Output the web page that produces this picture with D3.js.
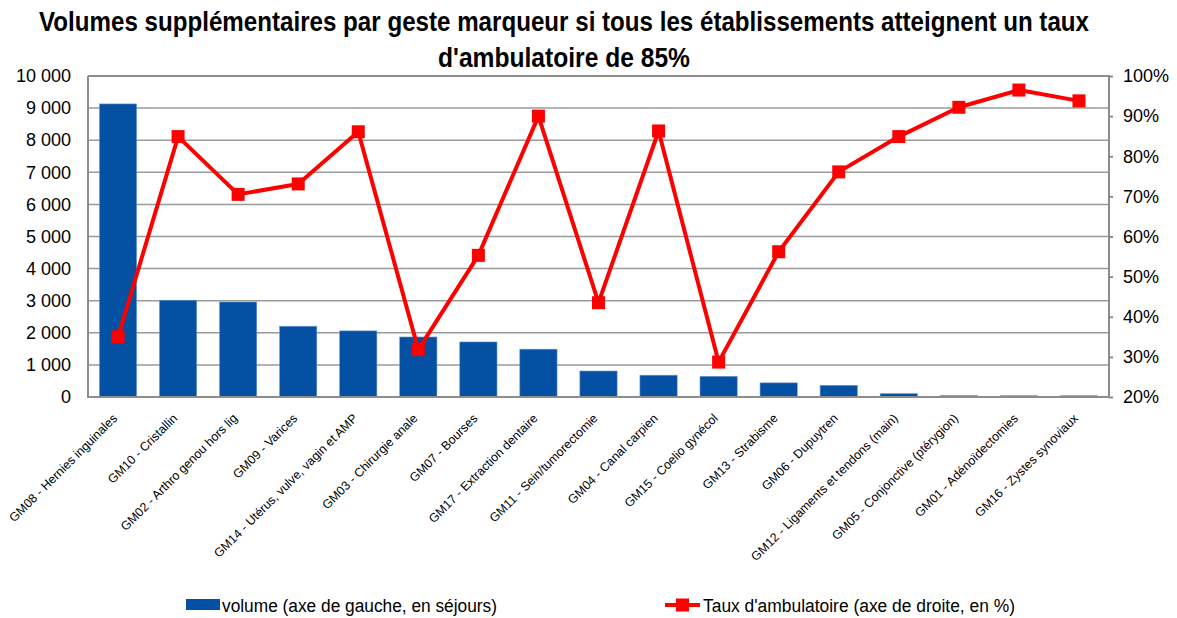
<!DOCTYPE html>
<html>
<head>
<meta charset="utf-8">
<script src="https://cdn.jsdelivr.net/npm/d3@7"></script>
<style>
  body { margin: 0; background: #fff; }
  svg { font-family: "Liberation Sans", Arial, sans-serif; display: block; }
</style>
</head>
<body>
<svg id="chart" width="1177" height="618"></svg>
<script>
var categories = ["GM08 - Hernies inguinales", "GM10 - Cristallin", "GM02 - Arthro genou hors lig",
  "GM09 - Varices", "GM14 - Utérus, vulve, vagin et AMP", "GM03 - Chirurgie anale", "GM07 - Bourses",
  "GM17 - Extraction dentaire", "GM11 - Sein/tumorectomie", "GM04 - Canal carpien", "GM15 - Coelio gynécol",
  "GM13 - Strabisme", "GM06 - Dupuytren", "GM12 - Ligaments et tendons (main)", "GM05 - Conjonctive (ptérygion)",
  "GM01 - Adénoïdectomies", "GM16 - Zystes synoviaux"]
var volumes = [9130, 3015, 2960, 2205, 2060, 1870, 1715, 1490, 810, 680, 645, 440, 365, 105, 45, 40, 40]
var tauxAmbu = [35.0, 84.9, 70.5, 73.1, 86.1, 31.8, 55.3, 90.0, 43.5, 86.3, 28.7, 56.2, 76.1, 84.9, 92.2, 96.5, 93.8]
var leftTicks = [0, 1000, 2000, 3000, 4000, 5000, 6000, 7000, 8000, 9000, 10000]
var rightTicks = [20, 30, 40, 50, 60, 70, 80, 90, 100]
var titleLines = ["Volumes supplémentaires par geste marqueur si tous les établissements atteignent un taux",
  "d'ambulatoire de 85%"]
var legendLabels = ["volume (axe de gauche, en séjours)", "Taux d'ambulatoire (axe de droite, en %)"]

var svg = d3.select("#chart")
var margin = { top: 76, right: 68, bottom: 221, left: 88 }
var width = 1177 - margin.left - margin.right
var height = 618 - margin.top - margin.bottom

var blue = "#0450a2"
var red = "#ff0000"
var gray = "#8c8c8c"

var x = d3.scaleBand().domain(categories).range([0, width]).paddingInner(0.38).paddingOuter(0.19)
var yLeft = d3.scaleLinear().domain([0, 10000]).range([height, 0])
var yRight = d3.scaleLinear().domain([20, 100]).range([height, 0])

// titre (police étroite simulée par un scaleX)
var titleWidths = [1050, 252]
svg.append("g")
    .selectAll("text")
    .data(titleLines)
    .enter().append("text")
    .attr("text-anchor", "middle")
    .attr("font-weight", "bold")
    .attr("font-size", 27)
    .text(d => d)
    .attr("transform", function (d, i) {
        var sx = titleWidths[i] / this.getComputedTextLength()
        return "translate(564," + (31 + i * 36) + ") scale(" + sx + ",1)"
    })

var g = svg.append("g").attr("transform", "translate(" + margin.left + "," + margin.top + ")")

// grille
g.append("g")
    .selectAll("line")
    .data(leftTicks)
    .enter().append("line")
    .attr("x1", 0)
    .attr("x2", width)
    .attr("y1", d => yLeft(d))
    .attr("y2", d => yLeft(d))
    .attr("stroke", "#9a9a9a")
    .attr("stroke-width", 1.5)

// barres
g.append("g")
    .selectAll("rect")
    .data(volumes)
    .enter().append("rect")
    .attr("x", (d, i) => x(categories[i]))
    .attr("y", d => yLeft(d))
    .attr("width", x.bandwidth())
    .attr("height", d => height - yLeft(d))
    .attr("fill", blue)
    .attr("stroke", "#6f9bd1")
    .attr("stroke-width", 0.6)

// axes
var leftAxis = g.append("g")
    .call(d3.axisLeft(yLeft).tickValues(leftTicks).tickSize(0).tickPadding(17)
        .tickFormat(d => d3.format(",")(d).replace(",", " ")))
leftAxis.select(".domain").remove()
leftAxis.selectAll("text").attr("font-size", 18).attr("fill", "#000")

var rightAxis = g.append("g")
    .attr("transform", "translate(" + width + ",0)")
    .call(d3.axisRight(yRight).tickValues(rightTicks).tickSize(4).tickPadding(10)
        .tickFormat(d => d + "%"))
rightAxis.select(".domain").remove()
rightAxis.selectAll("line").attr("stroke", gray).attr("stroke-width", 2)
rightAxis.selectAll("text").attr("font-size", 18).attr("fill", "#000")

g.append("path")
    .attr("d", "M0,0V" + height + "H" + width + "V0H0")
    .attr("fill", "none")
    .attr("stroke", gray)
    .attr("stroke-width", 2)

// courbe du taux
var line = d3.line()
    .x((d, i) => x(categories[i]) + x.bandwidth() / 2)
    .y(d => yRight(d))

g.append("path")
    .datum(tauxAmbu)
    .attr("d", line)
    .attr("fill", "none")
    .attr("stroke", red)
    .attr("stroke-width", 4)
    .attr("stroke-linejoin", "round")

g.append("g")
    .selectAll("rect")
    .data(tauxAmbu)
    .enter().append("rect")
    .attr("x", (d, i) => x(categories[i]) + x.bandwidth() / 2 - 6.5)
    .attr("y", d => yRight(d) - 6.5)
    .attr("width", 13)
    .attr("height", 13)
    .attr("fill", red)

// libellés des catégories
g.append("g")
    .selectAll("text")
    .data(categories)
    .enter().append("text")
    .attr("transform", d => "translate(" + (x(d) + x.bandwidth() / 2) + "," + (height + 22) + ") rotate(-45)")
    .attr("text-anchor", "end")
    .attr("font-size", 12.4)
    .text(d => d)

// légende
var legend = svg.append("g").attr("transform", "translate(0,606)")
legend.append("rect")
    .attr("x", 186).attr("y", -7).attr("width", 34).attr("height", 11)
    .attr("fill", blue)
legend.append("line")
    .attr("x1", 665).attr("x2", 700).attr("y1", -1).attr("y2", -1)
    .attr("stroke", red).attr("stroke-width", 4)
legend.append("rect")
    .attr("x", 676).attr("y", -7.5).attr("width", 13).attr("height", 13)
    .attr("fill", red)
legend.selectAll("text")
    .data(legendLabels)
    .enter().append("text")
    .attr("x", (d, i) => i === 0 ? 222 : 703)
    .attr("y", 6)
    .attr("font-size", 18)
    .attr("textLength", (d, i) => i === 0 ? 275 : 312)
    .attr("lengthAdjust", "spacingAndGlyphs")
    .text(d => d)
</script>
</body>
</html>
